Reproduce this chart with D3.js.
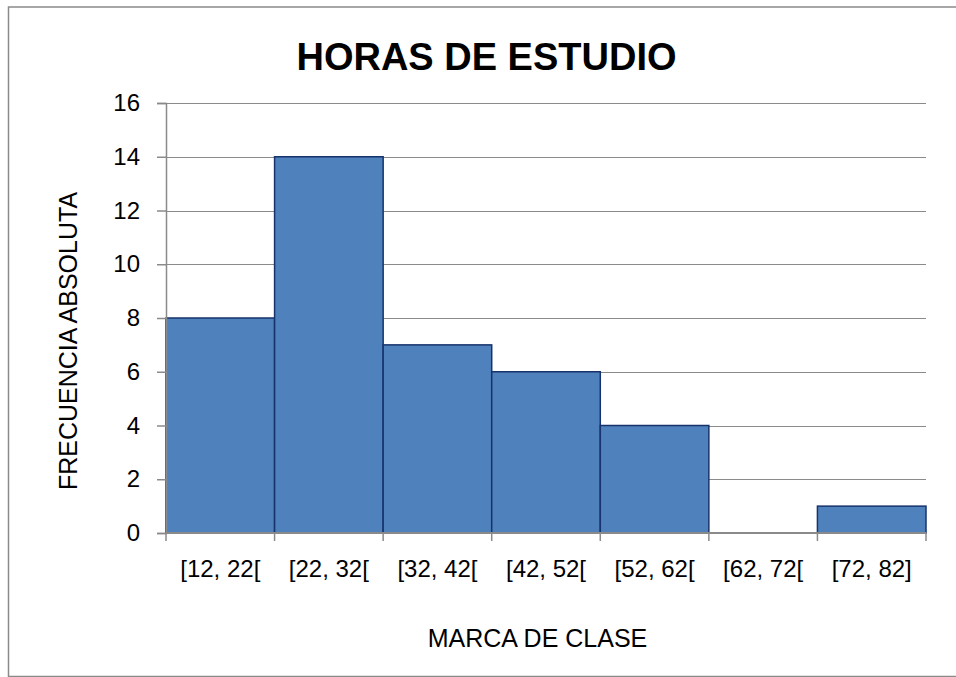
<!DOCTYPE html>
<html>
<head>
<meta charset="utf-8">
<script src="https://cdn.jsdelivr.net/npm/d3@7"></script>
<style>
    body { margin: 0; background: #fff; }
    svg { display: block; }
</style>
</head>
<body>
<script>
const categories = ["[12, 22[", "[22, 32[", "[32, 42[", "[42, 52[", "[52, 62[", "[62, 72[", "[72, 82]"];
const frequencies = [8, 14, 7, 6, 4, 0, 1];
const yTicks = [0, 2, 4, 6, 8, 10, 12, 14, 16];

drawChart();

function drawChart(){
    const W = 956, H = 677;
    const plot = {left: 166, right: 926, top: 103, bottom: 533};
    const font = "'Liberation Sans', Arial, sans-serif";

    const svg = d3.select("body")
        .append("svg")
        .attr("width", W)
        .attr("height", H);

    // chart frame
    svg.append("rect")
        .attr("x", 8.5)
        .attr("y", 7)
        .attr("width", 960)
        .attr("height", 669.5)
        .attr("fill", "#fff")
        .attr("stroke", "#8a8a8a")
        .attr("stroke-width", 1.5);

    const xScale = d3.scaleBand()
        .domain(categories)
        .range([plot.left, plot.right])
        .padding(0);

    const yScale = d3.scaleLinear()
        .domain([0, 16])
        .range([plot.bottom, plot.top]);

    // gridlines
    svg.append("g")
        .selectAll("line")
        .data(yTicks.filter(function(d){ return d > 0; }))
        .enter()
        .append("line")
        .attr("x1", plot.left)
        .attr("x2", plot.right)
        .attr("y1", function(d){ return Math.round(yScale(d)) + 0.5; })
        .attr("y2", function(d){ return Math.round(yScale(d)) + 0.5; })
        .attr("stroke", "#8a8a8a")
        .attr("stroke-width", 1);

    // bars
    svg.append("g")
        .selectAll(".bar")
        .data(frequencies.map(function(v, i){ return {cat: categories[i], value: v}; }).filter(function(d){ return d.value > 0; }))
        .enter()
        .append("rect")
        .attr("class", "bar")
        .attr("x", function(d){ return xScale(d.cat); })
        .attr("y", function(d){ return yScale(d.value); })
        .attr("width", xScale.bandwidth())
        .attr("height", function(d){ return yScale(0) - yScale(d.value); })
        .attr("fill", "#4f81bd")
        .attr("stroke", "#17336b")
        .attr("stroke-width", 1.5);

    // y axis
    const yAxis = svg.append("g")
        .attr("transform", "translate(" + plot.left + ",0)")
        .call(d3.axisLeft(yScale).tickValues(yTicks).tickSize(9).tickPadding(17).tickFormat(d3.format("")));
    yAxis.select(".domain").attr("stroke", "#8a8a8a").attr("stroke-width", 1.5);
    yAxis.selectAll(".tick line").attr("stroke", "#8a8a8a").attr("stroke-width", 1.5);
    yAxis.selectAll(".tick text")
        .attr("font-family", font)
        .attr("font-size", "24px")
        .attr("fill", "#000");

    // x axis (labels at band centres)
    const xAxis = svg.append("g")
        .attr("transform", "translate(0," + plot.bottom + ")")
        .call(d3.axisBottom(xScale).tickSize(0).tickPadding(27));
    xAxis.select(".domain").remove();
    xAxis.selectAll(".tick text")
        .attr("font-family", font)
        .attr("font-size", "24px")
        .attr("fill", "#000");

    // x baseline and boundary ticks
    svg.append("line")
        .attr("x1", plot.left)
        .attr("x2", plot.right)
        .attr("y1", yScale(0))
        .attr("y2", yScale(0))
        .attr("stroke", "#8a8a8a")
        .attr("stroke-width", 2);

    const edges = categories.map(function(c){ return xScale(c); }).concat([xScale(categories[categories.length - 1]) + xScale.bandwidth()]);
    svg.append("g")
        .selectAll("line")
        .data(edges)
        .enter()
        .append("line")
        .attr("x1", function(d){ return d; })
        .attr("x2", function(d){ return d; })
        .attr("y1", yScale(0))
        .attr("y2", yScale(0) + 8)
        .attr("stroke", "#8a8a8a")
        .attr("stroke-width", 1.5);

    // titles
    svg.append("text")
        .attr("x", 486.5)
        .attr("y", 70)
        .attr("text-anchor", "middle")
        .attr("font-family", font)
        .attr("font-weight", "bold")
        .attr("font-size", "38px")
        .text("HORAS DE ESTUDIO");

    svg.append("text")
        .attr("x", 537.5)
        .attr("y", 647)
        .attr("text-anchor", "middle")
        .attr("font-family", font)
        .attr("font-size", "25px")
        .text("MARCA DE CLASE");

    svg.append("text")
        .attr("transform", "translate(77,341) rotate(-90)")
        .attr("text-anchor", "middle")
        .attr("font-family", font)
        .attr("font-size", "25px")
        .text("FRECUENCIA ABSOLUTA");
}
</script>
</body>
</html>
